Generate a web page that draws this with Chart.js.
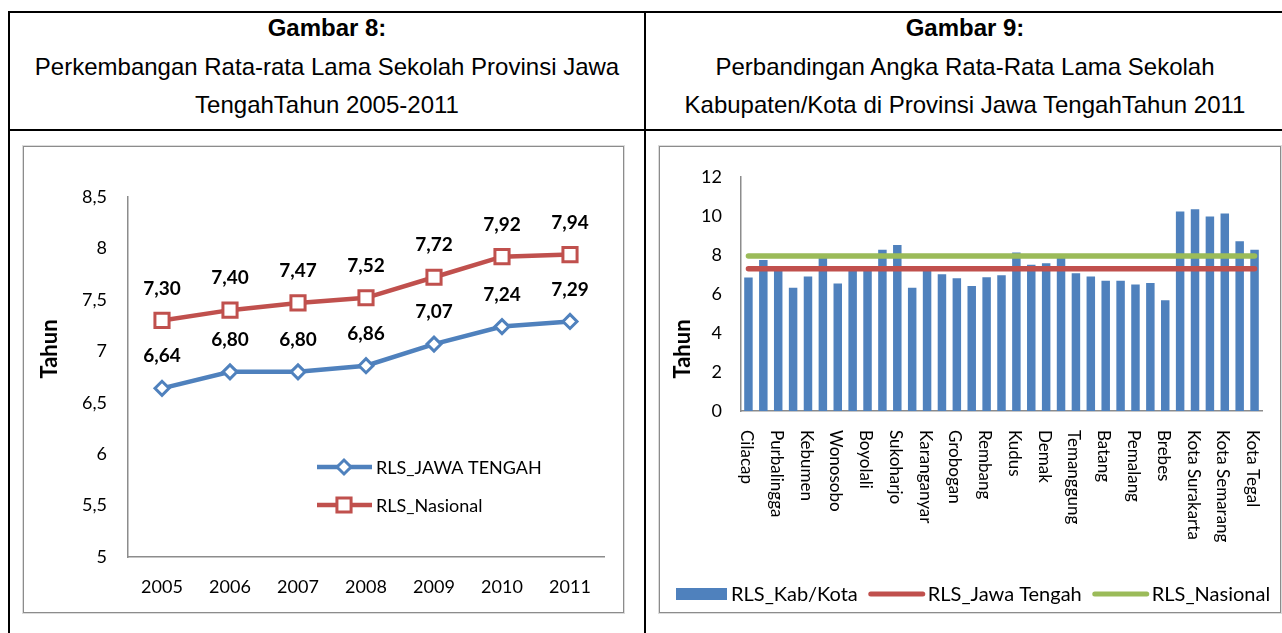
<!DOCTYPE html>
<html><head><meta charset="utf-8">
<script src="https://cdn.jsdelivr.net/npm/chart.js@4.4.1/dist/chart.umd.min.js"></script>
<style>
html,body{margin:0;padding:0;background:#fff;width:1282px;height:633px;overflow:hidden;position:relative;}
.ln{position:absolute;background:#000;}
.hd{position:absolute;font-family:'Liberation Sans',Arial,sans-serif;font-size:24px;line-height:38px;height:38px;white-space:nowrap;color:#000;transform:translateX(-50%);}
.hd.b{font-weight:bold;}
.box{position:absolute;border:1px solid #8c8c8c;box-shadow:0 0 0 1px #dcdcdc;background:#fff;}
.box canvas{position:absolute;left:0;top:0;}
</style></head><body>
<div class="ln" style="left:8px;top:11px;width:1280px;height:2px"></div>
<div class="ln" style="left:8px;top:11px;width:2px;height:630px"></div>
<div class="ln" style="left:8px;top:129px;width:1280px;height:2px"></div>
<div class="ln" style="left:644px;top:11px;width:2px;height:630px"></div>

<div class="hd b" style="left:327px;top:9px">Gambar 8:</div>
<div class="hd" style="left:327px;top:48px">Perkembangan Rata-rata Lama Sekolah Provinsi Jawa</div>
<div class="hd" style="left:327px;top:86px">TengahTahun 2005-2011</div>
<div class="hd b" style="left:965px;top:9px">Gambar 9:</div>
<div class="hd" style="left:965px;top:48px">Perbandingan Angka Rata-Rata Lama Sekolah</div>
<div class="hd" style="left:965px;top:86px">Kabupaten/Kota di Provinsi Jawa TengahTahun 2011</div>

<div class="box" style="left:23px;top:146px;width:599px;height:465px"><canvas id="c1" width="599" height="465"></canvas></div>
<div class="box" style="left:659px;top:146px;width:620px;height:465px"><canvas id="c2" width="620" height="465"></canvas></div>

<script>
// ---------- data: Gambar 8 ----------
const years = ['2005','2006','2007','2008','2009','2010','2011'];
const rlsJawaTengah = [6.64, 6.80, 6.80, 6.86, 7.07, 7.24, 7.29];
const rlsNasional = [7.30, 7.40, 7.47, 7.52, 7.72, 7.92, 7.94];
const seriesNames1 = ['RLS_JAWA TENGAH', 'RLS_Nasional'];

// ---------- data: Gambar 9 ----------
const kabKota = ['Cilacap','Banyumas','Purbalingga','Banjarnegara','Kebumen','Purworejo','Wonosobo','Magelang',
  'Boyolali','Klaten','Sukoharjo','Wonogiri','Karanganyar','Sragen','Grobogan','Blora','Rembang','Pati','Kudus',
  'Jepara','Demak','Semarang','Temanggung','Kendal','Batang','Pekalongan','Pemalang','Tegal','Brebes',
  'Kota Magelang','Kota Surakarta','Kota Salatiga','Kota Semarang','Kota Pekalongan','Kota Tegal'];
const rlsKabKota = [6.84, 7.74, 7.25, 6.31, 6.89, 7.85, 6.53, 7.22, 7.25, 8.26, 8.50, 6.31, 7.28, 7.01, 6.80,
  6.41, 6.85, 6.96, 8.12, 7.50, 7.57, 7.85, 7.06, 6.89, 6.68, 6.67, 6.48, 6.56, 5.68,
  10.22, 10.34, 9.97, 10.12, 8.70, 8.26];
const rlsJawaTengah2011 = [7.29, 7.29];
const rlsNasional2011 = [7.94, 7.94];
const seriesNames2 = ['RLS_Kab/Kota', 'RLS_Jawa Tengah', 'RLS_Nasional'];

const BLUE = '#4F81BD', RED = '#C0504D', GREEN = '#9BBB59', AXIS = '#8c8c8c';
const FONT = 'Lato, "Noto Sans", sans-serif';
const comma = v => String(v).replace('.', ',');
const fmt2 = v => v.toFixed(2).replace('.', ',');

function drawMarker(ctx, style, x, y, r, color) {
  ctx.save();
  ctx.fillStyle = '#fff'; ctx.strokeStyle = color; ctx.lineWidth = 3;
  ctx.beginPath();
  if (style === 'rectRot') {
    ctx.moveTo(x - r, y); ctx.lineTo(x, y - r); ctx.lineTo(x + r, y); ctx.lineTo(x, y + r); ctx.closePath();
  } else {
    const s = Math.SQRT1_2 * r; ctx.rect(x - s, y - s, 2 * s, 2 * s);
  }
  ctx.fill(); ctx.stroke();
  ctx.restore();
}

function build() {
  Chart.defaults.font.family = FONT;
  Chart.defaults.color = '#000';

  const deco1 = {
    id: 'deco1',
    afterDatasetsDraw(chart) {
      const ctx = chart.ctx;
      ctx.save();
      ctx.fillStyle = '#000';
      ctx.font = 'bold 19px ' + FONT;
      ctx.textAlign = 'center'; ctx.textBaseline = 'middle';
      chart.data.datasets.forEach((ds, di) => {
        chart.getDatasetMeta(di).data.forEach((pt, i) => ctx.fillText(fmt2(ds.data[i]), pt.x, pt.y - 32));
      });
      // y title
      ctx.save();
      ctx.translate(26, 202); ctx.rotate(-Math.PI / 2);
      ctx.font = 'bold 22px ' + FONT;
      ctx.fillText('Tahun', 0, 0);
      ctx.restore();
      // legend
      const rows = [320, 358];
      chart.data.datasets.forEach((ds, di) => {
        const y = rows[di];
        ctx.strokeStyle = ds.borderColor; ctx.lineWidth = ds.borderWidth; ctx.lineCap = 'butt';
        ctx.beginPath(); ctx.moveTo(293, y); ctx.lineTo(348, y); ctx.stroke();
        drawMarker(ctx, ds.pointStyle, 320, y, ds.pointRadius, ds.borderColor);
        ctx.fillStyle = '#000'; ctx.font = '18px ' + FONT; ctx.textAlign = 'left';
        ctx.fillText(ds.label, 352, y + 1);
      });
      ctx.restore();
    }
  };

  new Chart(document.getElementById('c1'), {
    type: 'line',
    data: {
      labels: years,
      datasets: [
        { label: seriesNames1[0], data: rlsJawaTengah, borderColor: BLUE, borderWidth: 4.5,
          pointStyle: 'rectRot', pointRadius: 7, pointBorderWidth: 3, pointBackgroundColor: '#fff',
          pointBorderColor: BLUE, tension: 0 },
        { label: seriesNames1[1], data: rlsNasional, borderColor: RED, borderWidth: 4.5,
          pointStyle: 'rect', pointRadius: 10, pointBorderWidth: 3, pointBackgroundColor: '#fff',
          pointBorderColor: RED, tension: 0 }
      ]
    },
    options: {
      responsive: false, animation: false, devicePixelRatio: 1,
      layout: { padding: { left: 0, top: 50, right: 19, bottom: 0 } },
      plugins: { legend: { display: false }, tooltip: { enabled: false } },
      scales: {
        x: {
          offset: true,
          grid: { display: false, drawTicks: false },
          border: { display: true, color: AXIS, width: 1.5 },
          ticks: { font: { size: 18 }, padding: 19, color: '#000' },
          afterFit: s => { s.height = 55; }
        },
        y: {
          min: 5, max: 8.5,
          grid: { display: false, drawTicks: false },
          border: { display: true, color: AXIS, width: 1.5 },
          ticks: { stepSize: 0.5, font: { size: 18 }, padding: 21, color: '#000', callback: v => comma(v) },
          afterFit: s => { s.width = 104; }
        }
      }
    },
    plugins: [deco1]
  });

  const deco2 = {
    id: 'deco2',
    afterDraw(chart) {
      const ctx = chart.ctx, xs = chart.scales.x;
      const d = chart.data.datasets;
      const legendOrder = [d[2], d[0], d[1]];
      ctx.save();
      ctx.fillStyle = '#000';
      // rotated category labels (every other one)
      ctx.font = '17px ' + FONT;
      ctx.textAlign = 'left'; ctx.textBaseline = 'middle';
      chart.data.labels.forEach((lab, i) => {
        if (i % 2) return;
        const x = xs.getPixelForTick(i);
        ctx.save();
        ctx.translate(x - 2, chart.chartArea.bottom + 19);
        ctx.rotate(Math.PI / 2);
        ctx.fillText(lab, 0, 0);
        ctx.restore();
      });
      // y title
      ctx.save();
      ctx.translate(23, 202); ctx.rotate(-Math.PI / 2);
      ctx.textAlign = 'center';
      ctx.font = 'bold 22px ' + FONT;
      ctx.fillText('Tahun', 0, 0);
      ctx.restore();
      // legend
      let x = 16; const y = 447;
      ctx.font = '20px ' + FONT; ctx.textAlign = 'left';
      legendOrder.forEach(ds => {
        if (ds.type === 'bar') {
          ctx.fillStyle = ds.backgroundColor; ctx.fillRect(x, y - 6, 51, 12);
          x += 55;
        } else {
          ctx.strokeStyle = ds.borderColor; ctx.lineWidth = 5; ctx.lineCap = 'round';
          ctx.beginPath(); ctx.moveTo(x + 2, y); ctx.lineTo(x + 54, y); ctx.stroke();
          x += 59;
        }
        ctx.fillStyle = '#000';
        ctx.fillText(ds.label, x, y + 1);
        x += ctx.measureText(ds.label).width + 11;
      });
      ctx.restore();
    }
  };

  new Chart(document.getElementById('c2'), {
    data: {
      labels: kabKota,
      datasets: [
        { type: 'line', label: seriesNames2[1], order: 0,
          data: [{ x: kabKota[0], y: rlsJawaTengah2011[0] }, { x: kabKota[kabKota.length - 1], y: rlsJawaTengah2011[1] }],
          borderColor: RED, borderWidth: 5.5, borderCapStyle: 'round', pointRadius: 0, fill: false },
        { type: 'line', label: seriesNames2[2], order: 0,
          data: [{ x: kabKota[0], y: rlsNasional2011[0] }, { x: kabKota[kabKota.length - 1], y: rlsNasional2011[1] }],
          borderColor: GREEN, borderWidth: 5.5, borderCapStyle: 'round', pointRadius: 0, fill: false },
        { type: 'bar', label: seriesNames2[0], order: 2, data: rlsKabKota, backgroundColor: BLUE,
          barPercentage: 0.57, categoryPercentage: 1 }
      ]
    },
    options: {
      responsive: false, animation: false, devicePixelRatio: 1,
      layout: { padding: { left: 0, top: 29, right: 18, bottom: 0 } },
      plugins: { legend: { display: false }, tooltip: { enabled: false } },
      scales: {
        x: {
          type: 'category',
          grid: { display: false, drawTicks: false },
          border: { display: true, color: AXIS, width: 1.5 },
          ticks: { display: false },
          afterFit: s => { s.height = 201; }
        },
        y: {
          min: 0, max: 12,
          grid: { display: false, drawTicks: false },
          border: { display: true, color: AXIS, width: 1.5 },
          ticks: { stepSize: 2, font: { size: 18 }, padding: 19, color: '#000' },
          afterFit: s => { s.width = 81; }
        }
      }
    },
    plugins: [deco2]
  });
}

let built = false;
function go() { if (!built) { built = true; build(); } }
try {
  Promise.all([document.fonts.load('18px Lato'), document.fonts.load('bold 18px Lato')]).then(go, go);
  setTimeout(go, 1500);
} catch (e) { go(); }
</script>
</body></html>
